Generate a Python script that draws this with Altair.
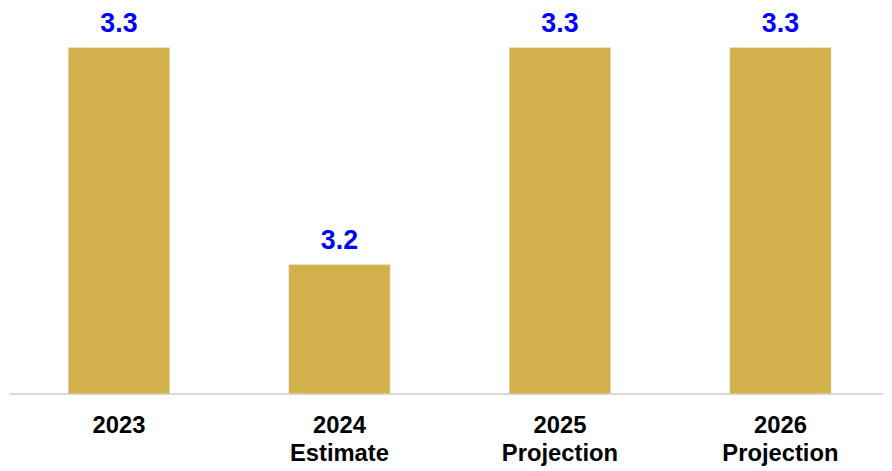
import altair as alt
import pandas as pd

categories = ["2023", "2024\nEstimate", "2025\nProjection", "2026\nProjection"]
values = [3.3, 3.2, 3.3, 3.3]

y_min = 3.1406
y_max = 3.3174

df = pd.DataFrame({"cat": categories, "val": values})

W, H = 882, 387

x = alt.X("cat:N", sort=categories, title=None,
          scale=alt.Scale(paddingInner=0.5416, paddingOuter=0.2528, align=0.533),
          axis=alt.Axis(labelAngle=0, ticks=False, domainColor="#d9d9d9", domainWidth=2,
                        labelFont="Liberation Sans", labelFontWeight="bold", labelFontSize=24,
                        labelColor="#000000", labelPadding=20, labelBaseline="top",
                        labelLineHeight=29,
                        labelExpr="split(datum.label, '\\n')"))
y = alt.Y("val:Q", scale=alt.Scale(domain=[y_min, y_max], zero=False, nice=False), axis=None)

base = alt.Chart(df)
bars = base.mark_bar(color="#D2B04C", stroke="#e0cfa0", strokeWidth=0.5).encode(
    x=x, y=y, y2=alt.datum(y_min))
text = base.mark_text(font="Liberation Sans", fontWeight="bold", fontSize=27,
                      color="#0000FF", dy=-16, baseline="alphabetic").encode(
    x=x, y=y, text=alt.Text("val:Q", format=".1f"))

chart = (bars + text).properties(
    width=W, height=H,
    autosize=alt.AutoSizeParams(type="none"),
    padding={"left": 1, "top": 0, "right": 1, "bottom": 76},
).configure_view(stroke=None)

chart.save("out.html", embed_options={"renderer": "svg", "actions": False})
